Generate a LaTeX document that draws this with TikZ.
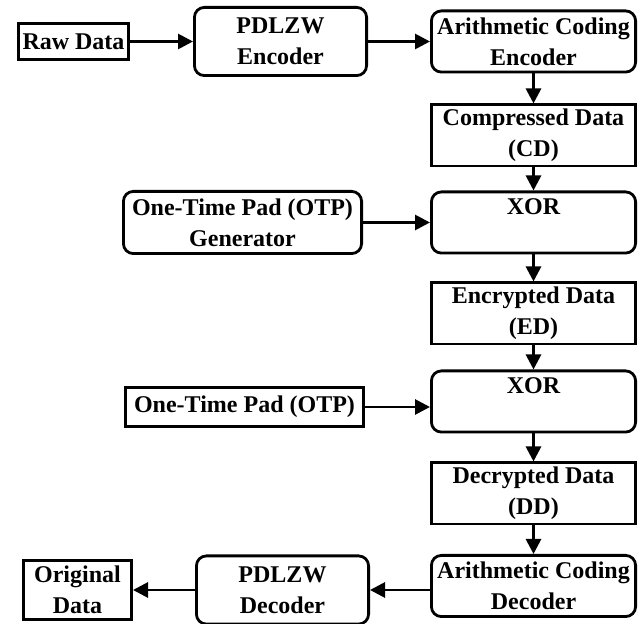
\documentclass[tikz,border=0pt]{standalone}
\usepackage{fontspec}
\setmainfont{Liberation Serif}
\usetikzlibrary{arrows.meta,positioning}

\begin{document}
\begin{tikzpicture}[
    node distance=12pt and 31.5pt,
    font=\fontsize{12}{15.5}\selectfont\bfseries,
    box/.style={draw, line width=1.4pt, inner sep=0.5pt, align=center},
    block/.style={box, rounded corners=5pt},
    stage/.style={minimum width=102.1pt, minimum height=30.6pt},
    coder/.style={minimum width=86.1pt, minimum height=34.1pt},
    line/.style={-{Triangle[length=7.5pt, width=7.5pt]}, line width=1.4pt}
]
\useasboundingbox (0,0) rectangle (321.5pt,-312pt);
\node[box, minimum width=55.1pt, minimum height=18.1pt] (raw) at (36.75pt,-20.75pt) {Raw Data};
\node[block, coder, right=of raw] (penc) {PDLZW \\ Encoder};
\node[block, stage, right=31pt of penc] (aenc) {Arithmetic Coding \\ Encoder};
\node[box, stage, below=15pt of aenc] (cd) {Compressed Data \\ (CD)};
\node[block, stage, below=11.5pt of cd] (xora) {XOR \\ ~};
\node[block, minimum width=119.1pt, minimum height=31.1pt, left=33.5pt of xora] (otpgen) {One-Time Pad (OTP) \\ Generator};
\node[box, stage, below=13.5pt of xora] (ed) {Encrypted Data \\ (ED)};
\node[block, stage, below=of ed] (xorb) {XOR \\ ~};
\node[box, minimum width=119.1pt, minimum height=19.6pt, left=32.5pt of xorb, yshift=-2.75pt] (otp) {One-Time Pad (OTP)};
\node[box, stage, below=14pt of xorb] (dd) {Decrypted Data \\ (DD)};
\node[block, stage, below=14.25pt of dd] (adec) {Arithmetic Coding \\ Decoder};
\node[block, coder, left=30pt of adec, yshift=-2pt] (pdec) {PDLZW \\ Decoder};
\node[box, minimum width=54.1pt, minimum height=29.6pt, left=31pt of pdec] (orig) {Original \\ Data};

\draw[line] (raw) -- (penc);
\draw[line] (penc) -- (aenc);
\draw[line] (aenc) -- (cd);
\draw[line] (cd) -- (xora);
\draw[line] (otpgen) -- (xora);
\draw[line] (xora) -- (ed);
\draw[line] (ed) -- (xorb);
\draw[line] (otp) -- (otp -| xorb.west);
\draw[line] (xorb) -- (dd);
\draw[line] (dd) -- (adec);
\draw[line] (adec.west |- pdec) -- (pdec);
\draw[line] (pdec) -- (orig);
\end{tikzpicture}
\end{document}
